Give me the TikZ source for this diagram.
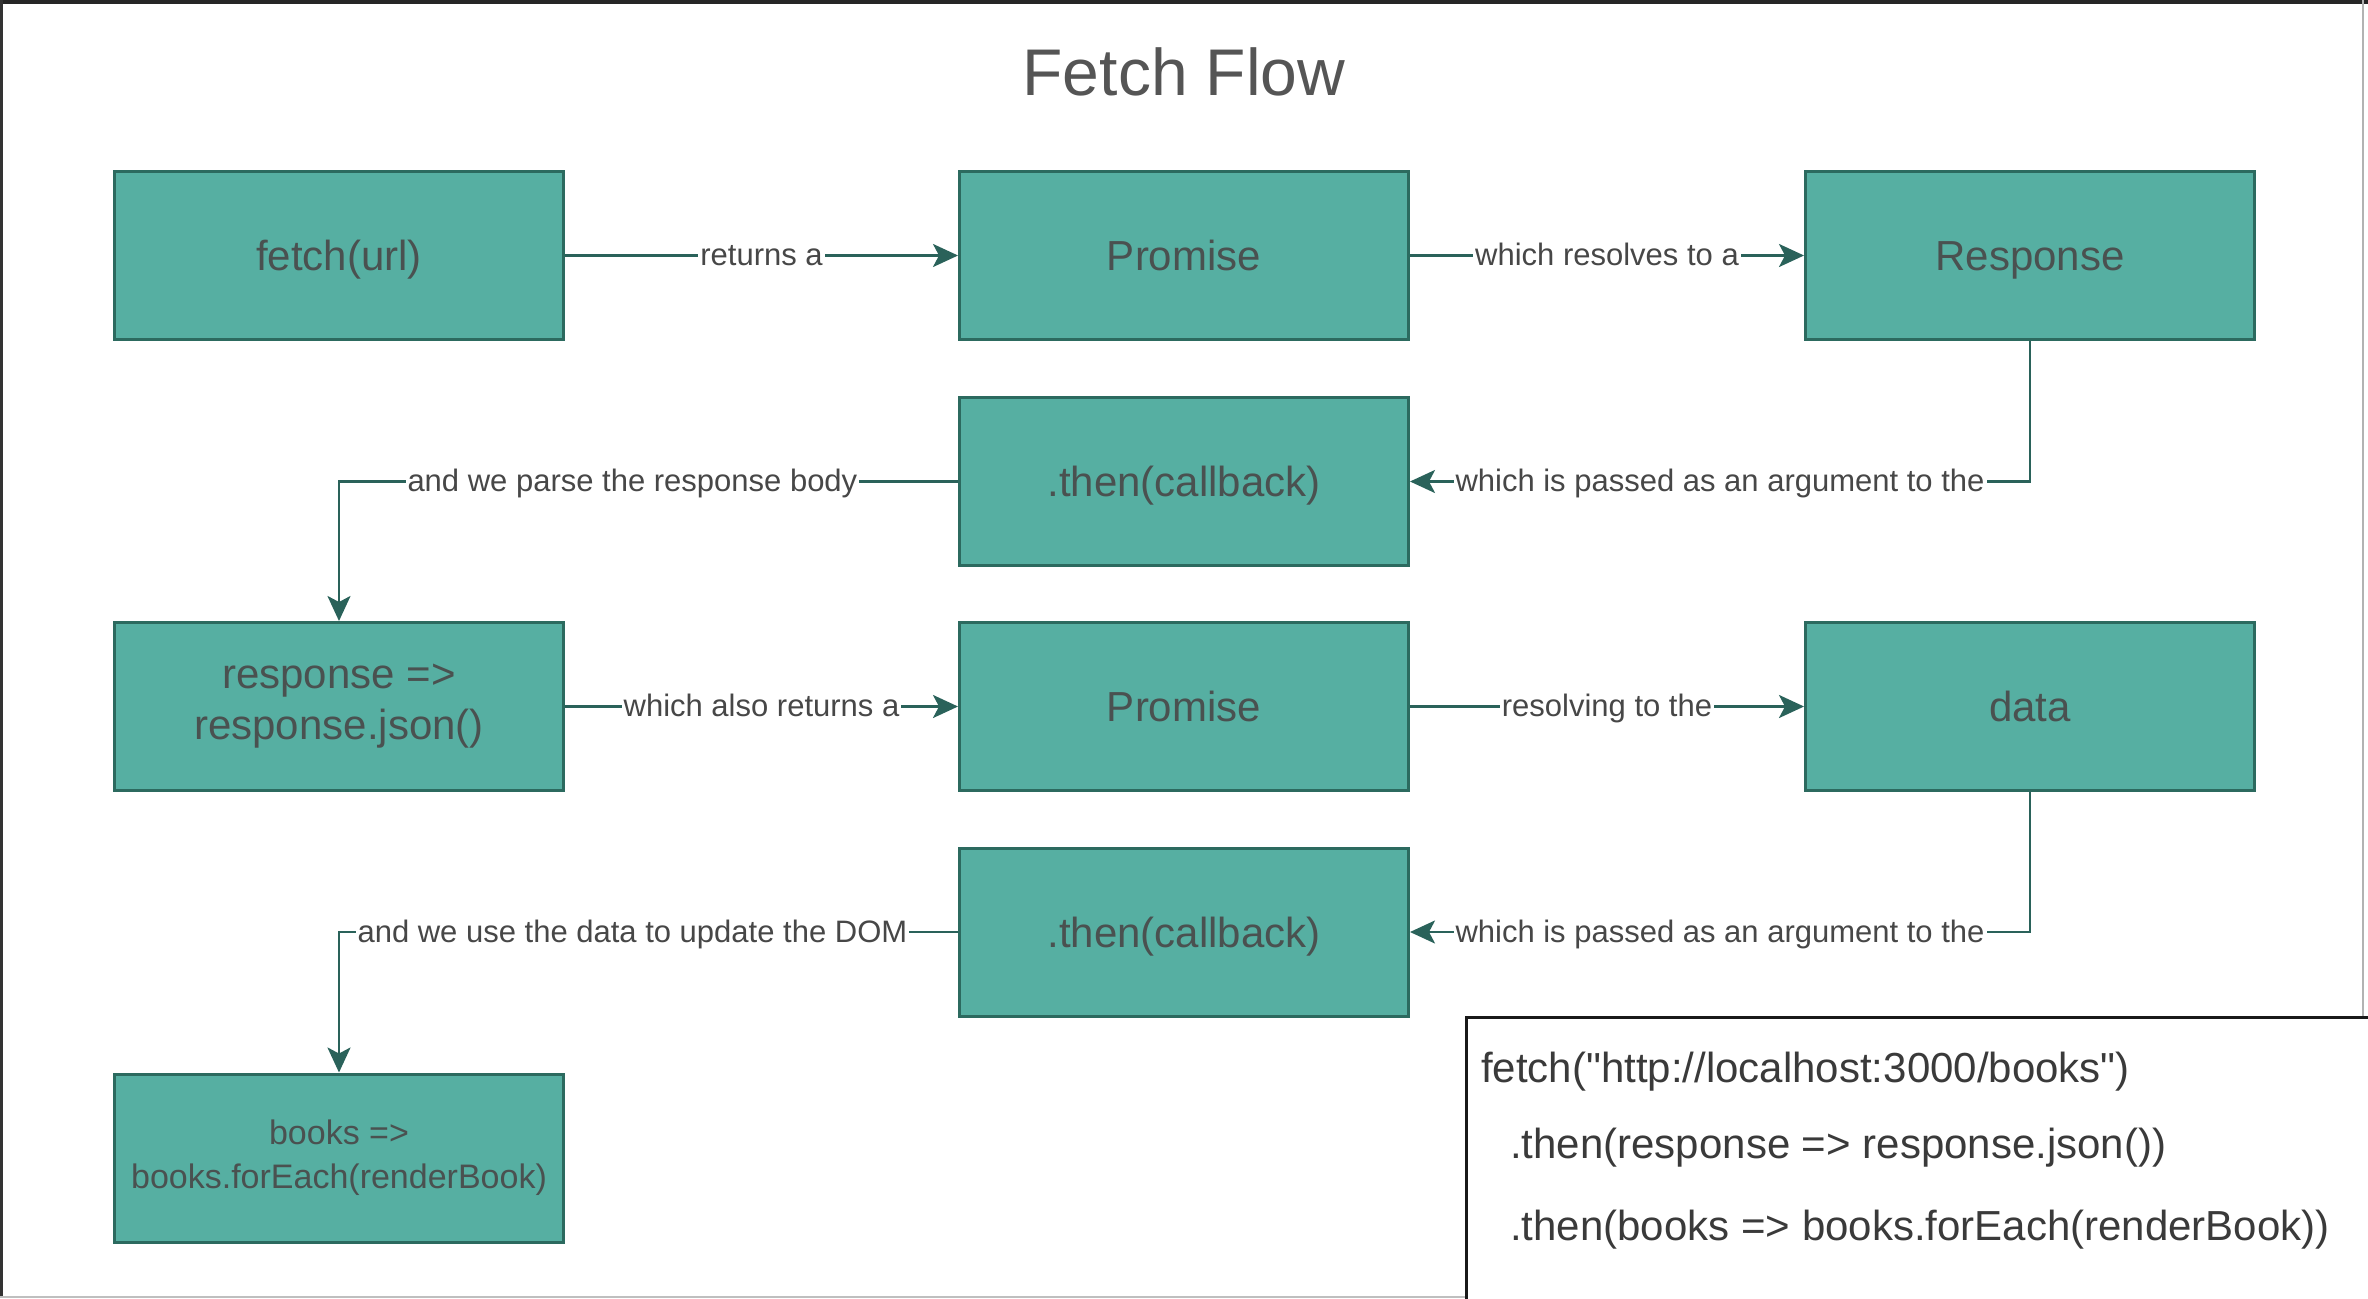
\documentclass[tikz,border=0pt]{standalone}
\usepackage{fontspec}
\setmainfont{Liberation Sans}
\newfontfamily\codefont{Liberation Sans}
\usetikzlibrary{arrows.meta}
\definecolor{boxfill}{HTML}{56AFA2}
\definecolor{boxdraw}{HTML}{2C6A5F}
\definecolor{linecol}{HTML}{2A625A}
\definecolor{boxtxt}{HTML}{4A5150}
\definecolor{lbltxt}{HTML}{474747}
\definecolor{titlecol}{HTML}{555555}
\definecolor{codetxt}{HTML}{3A3A3A}
\tikzset{
  flowbox/.style={draw=boxdraw, line width=3pt, fill=boxfill, minimum width=449pt,
    minimum height=168pt, inner sep=0pt, text=boxtxt, align=center,
    font=\fontsize{42}{51}\selectfont},
  onebox/.style={flowbox, text height=34pt, text depth=4pt},
  conn/.style={draw=linecol, line width=2.5pt, -{Stealth[length=25pt,width=23pt,inset=6pt]}},
  elabel/.style={fill=white, text=lbltxt, inner sep=2pt, text height=24pt, text depth=4pt,
    font=\fontsize{31}{37}\selectfont},
  codeline/.style={anchor=base west, inner sep=0pt, text=codetxt, font=\codefont\fontsize{42}{50}\selectfont},
}
\begin{document}
\begin{tikzpicture}[x=1pt,y=-1pt]
\useasboundingbox (0,0) rectangle (2368,1298);
\fill[white] (0,0) rectangle (2368,1298);
% frame
\draw[line width=4pt, black!85] (0,2) -- (2368,2);
\draw[line width=3pt, black!80] (1.5,0) -- (1.5,1298);
\draw[line width=1.5pt, black!30] (2363,0) -- (2363,1017);
\draw[line width=1.5pt, black!25] (0,1297) -- (1466,1297);

\node[font=\fontsize{66}{79}\selectfont, text=titlecol, anchor=base, inner sep=0pt] (title) at (1184,95) {Fetch Flow};

\node[onebox] (fetch) at (339,255.5) {fetch(url)};
\node[onebox] (prom1) at (1184,255.5) {Promise};
\node[onebox] (resp) at (2030,255.5) {Response};
\node[onebox] (then1) at (1184,481.5) {.then(callback)};
\node[flowbox] (json) at (339,706.5) {response =>\\response.json()};
\node[onebox] (prom2) at (1184,706.5) {Promise};
\node[onebox] (data) at (2030,706.5) {data};
\node[onebox] (then2) at (1184,932) {.then(callback)};
\node[flowbox, font=\fontsize{34}{44}\selectfont] (books) at (339,1158) {books =>\\books.forEach(renderBook)};

\draw[conn] (fetch) -- node[elabel]{returns a} (prom1);
\draw[conn] (prom1) -- node[elabel]{which resolves to a} (resp);
\draw[conn] (resp.south) |- node[elabel, pos=0.75]{which is passed as an argument to the} (then1.east);
\draw[conn] (then1.west) -| node[elabel, pos=0.263]{and we parse the response body} (json.north);
\draw[conn] (json) -- node[elabel]{which also returns a} (prom2);
\draw[conn] (prom2) -- node[elabel]{resolving to the} (data);
\draw[conn] (data.south) |- node[elabel, pos=0.75]{which is passed as an argument to the} (then2.east);
\draw[conn] (then2.west) -| node[elabel, pos=0.263]{and we use the data to update the DOM} (books.north);

% code box
\draw[line width=3pt, black!90] (1466,1305) -- (1466,1017) -- (2375,1017);
\node[codeline] (c1) at (1481,1082) {fetch("http://localhost:3000/books")};
\node[codeline] (c2) at (1510,1158) {.then(response => response.json())};
\node[codeline] (c3) at (1510,1240) {.then(books => books.forEach(renderBook))};
\end{tikzpicture}
\end{document}
